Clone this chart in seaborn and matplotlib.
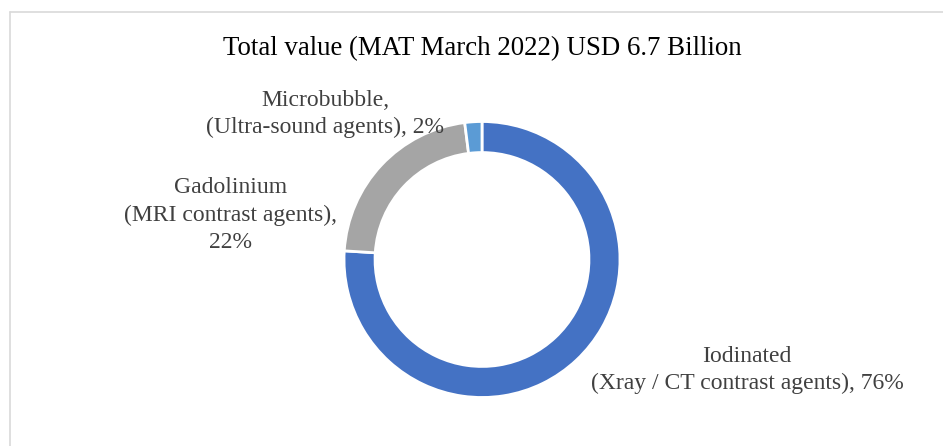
import matplotlib.pyplot as plt
import seaborn as sns
from matplotlib.lines import Line2D

# data
segments = ["Iodinated", "Gadolinium", "Microbubble"]
shares = [76, 22, 2]
label_texts = [
    "Iodinated\n(Xray / CT contrast agents), 76%",
    "Gadolinium\n(MRI contrast agents),\n22%",
    "Microbubble,\n(Ultra-sound agents), 2%",
]
colors = ["#4472C4", "#A5A5A5", "#5B9BD5"]
title = "Total value (MAT March 2022) USD 6.7 Billion"

W, H = 943, 446


def fx(px):
    return px / W


def fy(py):
    return 1 - py / H


def main():
    sns.set_theme(style="white")
    plt.rcParams["font.family"] = ["Liberation Serif", "DejaVu Serif"]

    fig = plt.figure(figsize=(W / 100, H / 100), dpi=100)

    cx, cy, r = 482, 259.5, 138
    ax = fig.add_axes([fx(cx - r), fy(cy + r), 2 * r / W, 2 * r / H])
    ax.pie(
        shares,
        colors=colors,
        startangle=90,
        counterclock=False,
        radius=1,
        wedgeprops=dict(width=0.225, edgecolor="white", linewidth=2),
    )
    ax.set_xlim(-1, 1)
    ax.set_ylim(-1, 1)
    ax.set_aspect("equal")
    ax.axis("off")

    # label blocks (pixel positions of centres)
    label_pos = [(747, 370), (231, 215), (325, 114)]
    for txt, (px, py) in zip(label_texts, label_pos):
        fig.text(fx(px), fy(py), txt, ha="center", va="center",
                 multialignment="center", fontsize=17, color="#404040",
                 linespacing=1.4)

    fig.text(fx(482), fy(49), title, ha="center", va="center",
             fontsize=19.4, color="black")

    # chart area border (left and top only visible)
    border = "#D9D9D9"
    fig.add_artist(Line2D([fx(9.5), fx(9.5)], [fy(11.5), 0], color=border, lw=1.2))
    fig.add_artist(Line2D([fx(9.5), 1], [fy(11.5), fy(11.5)], color=border, lw=1.2))

    fig.savefig("out.png", dpi=100, facecolor="white")


if __name__ == "__main__":
    main()
